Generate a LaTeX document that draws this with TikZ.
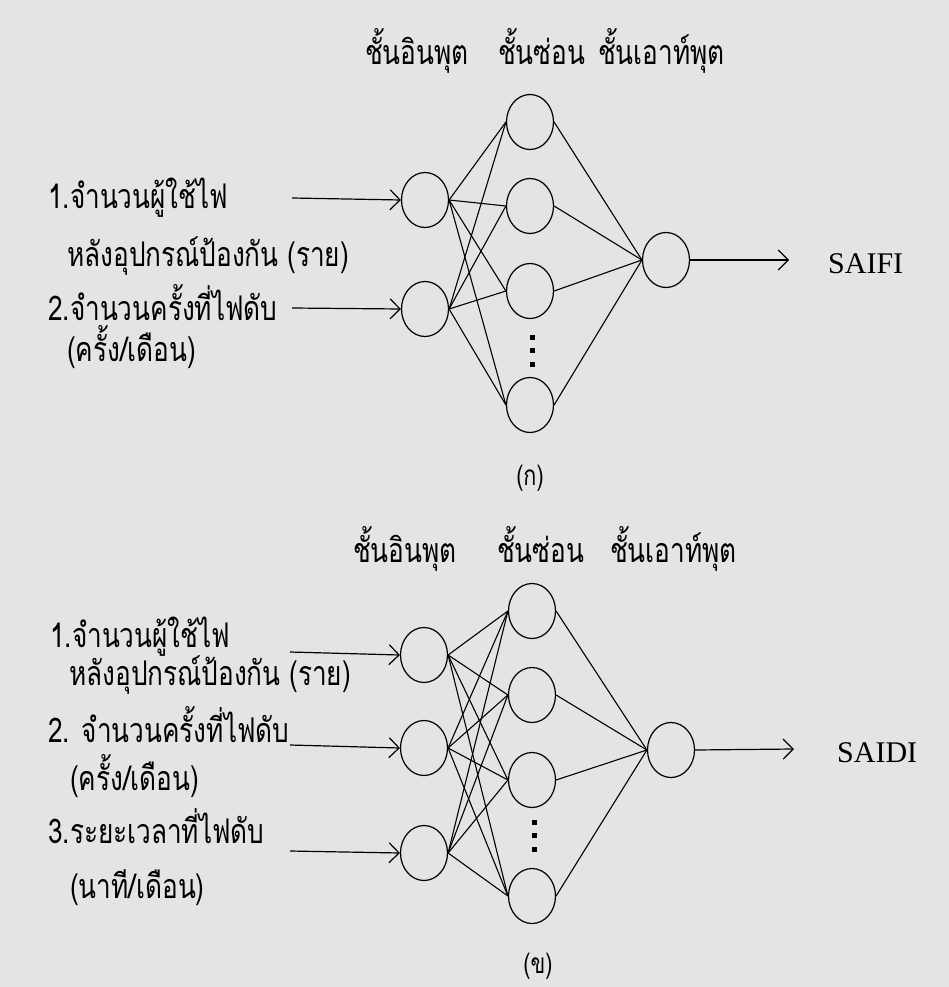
\documentclass[tikz,border=0pt]{standalone}
\usepackage{fontspec}
\setmainfont{Liberation Serif}
\newfontfamily\thaifont[Script=Thai,FakeStretch=0.77]{Loma}
\usetikzlibrary{shapes.geometric,arrows.meta}
\definecolor{bgcol}{RGB}{228,228,228}
\begin{document}
\begin{tikzpicture}[x=1pt,y=-1pt,
 neuron/.style={draw, ellipse, line width=1.2pt, minimum width=47pt, minimum height=55pt, inner sep=0pt},
 link/.style={line width=1.1pt},
 inarrow/.style={line width=1.2pt, -{Straight Barb[length=10pt,width=20pt,line width=1.2pt]}},
 lbl/.style={font=\thaifont\fontsize{34}{38}\selectfont, anchor=base west, inner sep=0pt},
 caplbl/.style={font=\thaifont\fontsize{28}{32}\selectfont, anchor=base, inner sep=0pt, text depth=0pt},
 outlbl/.style={font=\fontsize{30}{34}\selectfont, anchor=base west, inner sep=0pt},
 vdot/.style={fill=black, minimum size=5pt, inner sep=0pt}
]
\fill[bgcol] (0,0) rectangle (949,987);
\useasboundingbox (0,0) rectangle (949,987);

% ---------- (a) ----------
\node[lbl] (ha1) at (365,65) {ชั้นอินพุต};
\node[lbl] (ha2) at (498,65) {ชั้นซ่อน};
\node[lbl] (ha3) at (598,65) {ชั้นเอาท์พุต};

\node[neuron] (ai1) at (425,200) {};
\node[neuron] (ai2) at (425,309) {};
\node[neuron] (ah1) at (530,122) {};
\node[neuron] (ah2) at (530,206) {};
\node[neuron] (ah3) at (530,291) {};
\node[neuron] (ah4) at (530,405) {};
\node[neuron] (ao) at (666,260) {};

\node[vdot] (ad1) at (532,337) {};
\node[vdot] (ad2) at (532,350) {};
\node[vdot] (ad3) at (532,364) {};

\foreach \i in {1,2}{
  \foreach \j in {1,2,3,4}{
    \draw[link] (ai\i.east) -- (ah\j.west);
  }
}
\foreach \j in {1,2,3,4}{
  \draw[link] (ah\j.east) -- (ao.west);
}

\coordinate (as1) at (292,198);
\coordinate (as2) at (292,308);
\coordinate (aend) at (789,260);
\draw[inarrow] (as1) -- (ai1.west);
\draw[inarrow] (as2) -- (ai2.west);
\draw[inarrow] (ao.east) -- (aend);

\node[lbl] (at1) at (48,208) {1.จำนวนผู้ใช้ไฟ};
\node[lbl] (at2) at (67,266) {หลังอุปกรณ์ป้องกัน (ราย)};
\node[lbl] (at3) at (48,320) {2.จำนวนครั้งที่ไฟดับ};
\node[lbl] (at4) at (67,361) {(ครั้ง/เดือน)};
\node[outlbl] (aout) at (828,273) {SAIFI};
\node[caplbl] (acap) at (530,485) {(ก)};

% ---------- (b) ----------
\node[lbl] (hb1) at (353,562) {ชั้นอินพุต};
\node[lbl] (hb2) at (497,562) {ชั้นซ่อน};
\node[lbl] (hb3) at (610,562) {ชั้นเอาท์พุต};

\node[neuron] (bi1) at (424,655) {};
\node[neuron] (bi2) at (424,748) {};
\node[neuron] (bi3) at (424,853) {};
\node[neuron] (bh1) at (532,611) {};
\node[neuron] (bh2) at (532,695) {};
\node[neuron] (bh3) at (532,780) {};
\node[neuron] (bh4) at (532,896) {};
\node[neuron] (bo) at (671,750) {};

\node[vdot] (bd1) at (534,822) {};
\node[vdot] (bd2) at (534,835) {};
\node[vdot] (bd3) at (534,849) {};

\foreach \i in {1,2,3}{
  \foreach \j in {1,2,3,4}{
    \draw[link] (bi\i.east) -- (bh\j.west);
  }
}
\foreach \j in {1,2,3,4}{
  \draw[link] (bh\j.east) -- (bo.west);
}

\coordinate (bs1) at (290,652);
\coordinate (bs2) at (290,745);
\coordinate (bend) at (794,749);
\coordinate (bs3) at (290,851);
\draw[inarrow] (bs1) -- (bi1.west);
\draw[inarrow] (bs2) -- (bi2.west);
\draw[inarrow] (bs3) -- (bi3.west);
\draw[inarrow] (bo.east) -- (bend);

\node[lbl] (bt1) at (50,647) {1.จำนวนผู้ใช้ไฟ};
\node[lbl] (bt2) at (69,685) {หลังอุปกรณ์ป้องกัน (ราย)};
\node[lbl] (bt3) at (48,742) {2. จำนวนครั้งที่ไฟดับ};
\node[lbl] (bt4) at (70,790) {(ครั้ง/เดือน)};
\node[lbl] (bt5) at (48,843) {3.ระยะเวลาที่ไฟดับ};
\node[lbl] (bt6) at (70,898) {(นาที/เดือน)};
\node[outlbl] (bout) at (837,762) {SAIDI};
\node[caplbl] (bcap) at (538,973) {(ข)};
\end{tikzpicture}
\end{document}
